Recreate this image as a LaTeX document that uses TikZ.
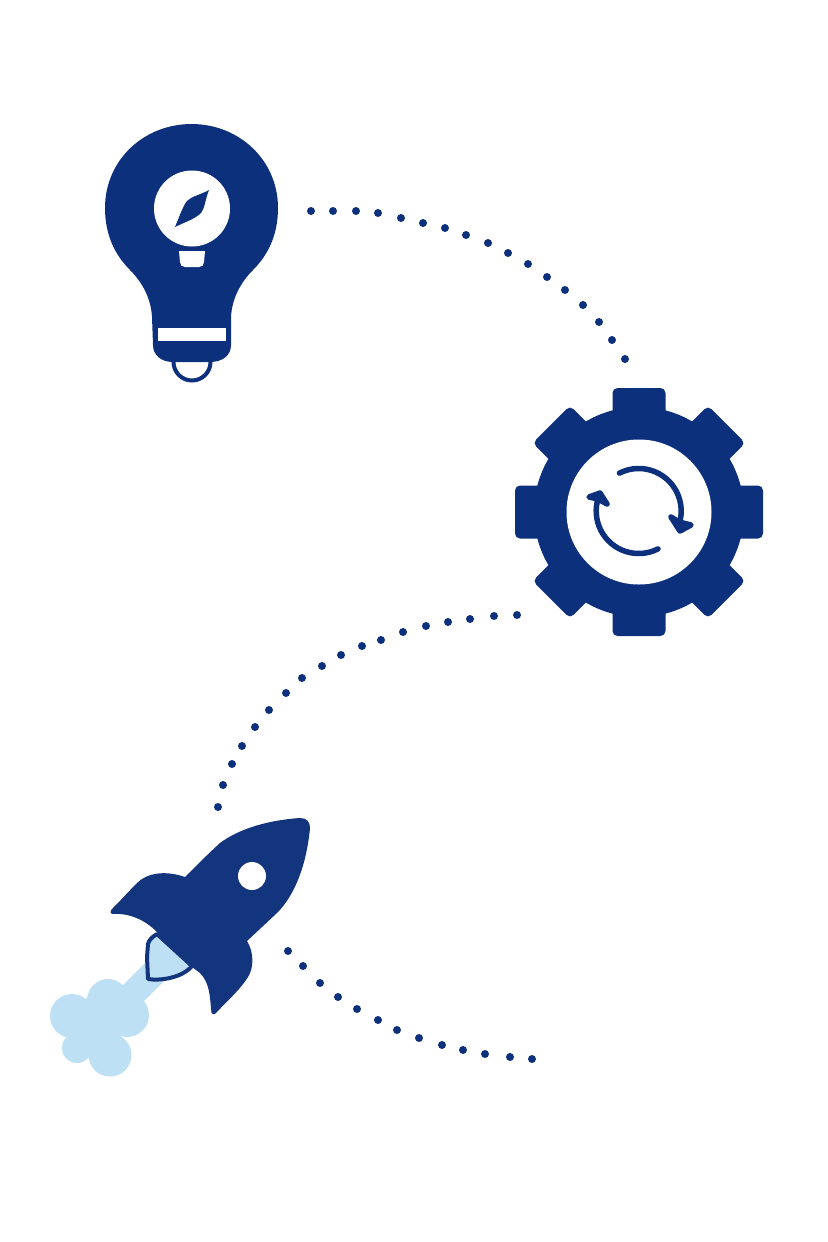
\documentclass[tikz,border=0pt]{standalone}
\definecolor{navy}{HTML}{0D307C}
\definecolor{rocketblue}{HTML}{13357E}
\definecolor{puff}{HTML}{BEE0F5}
\begin{document}
\begin{tikzpicture}[
        x=0.01cm, y=-0.01cm,
        dotnode/.style={draw=none, fill=navy, circle, inner sep=0pt, minimum size=0.08cm},
        icon/.style={fill=navy, draw=none},
        hole/.style={fill=white, draw=none},
        turn/.style={draw=navy, line width=0.055cm, line cap=round, line join=round},
    ]
    \useasboundingbox (0,0) rectangle (828,1242);

    % bulb
    \draw[navy, line width=0.04cm, fill=white] (192,362) circle[radius=18.5];
    \fill[icon] (173,362) .. controls (161,362) and (153,355) .. (153,345) -- (152,317)
        .. controls (151,298) and (142,282) .. (130,270) .. controls (115,255) and (105,235) .. (105,208)
        .. controls (105,160) and (144,124) .. (191.5,124) .. controls (239,124) and (278,160) .. (278,208)
        .. controls (278,235) and (268,255) .. (253,270) .. controls (241,282) and (232,298) .. (231,317)
        -- (231,345) .. controls (231,355) and (223,362) .. (210,362) -- cycle;
    \fill[hole] (192,208.5) circle[radius=38];
    \fill[icon] (209,190) .. controls (200,195) and (192,196) .. (187,201) .. controls (183,206) and (180,215) .. (175,227)
        .. controls (185,222) and (195,219) .. (201,213) .. controls (205,208) and (205,200) .. (209,190) -- cycle;
    \fill[hole] (179,251) -- (205,251) -- (204,262) .. controls (204,265) and (202,267) .. (199,267) -- (185,267) .. controls (182,267) and (180,265) .. (180,262) -- cycle;
    \fill[hole] (158,328) rectangle (226,341);

    % gear
    \fill[icon] (639,512) circle[radius=105];
    \foreach \a in {0,45,...,315}{
        \fill[icon, rounded corners=0.05cm, shift={(639,512)}, rotate=\a] (-26.5,-90) rectangle (26.5,-124);
    }
    \fill[hole] (639,512) circle[radius=72.5];
    \draw[turn] (638.7,511) ++(243:42.5) arc[start angle=243, end angle=383, radius=42.5];
    \draw[turn, fill=navy] (671,517) -- (680,531) -- (691,525) -- (679,522) -- cycle;
    \draw[turn] (638.7,511) ++(63:42.5) arc[start angle=63, end angle=198, radius=42.5];
    \draw[turn, fill=navy] (589,497) -- (600,493) -- (607,504) -- (598,499) -- cycle;

    % exhaust
    \fill[puff] (146,962) -- (118,990) -- (140,1005) -- (165,980) -- cycle;
    \fill[puff] (72,1016) circle[radius=22];
    \fill[puff] (108,1000) circle[radius=21];
    \fill[puff] (127,1015) circle[radius=22];
    \fill[puff] (110,1055) circle[radius=21.5];
    \fill[puff] (77,1048) circle[radius=15];
    \fill[puff] (97,1023) circle[radius=27];

    % rocket
    \draw[draw=rocketblue, line width=0.04cm, fill=puff, line join=round] (157,934) .. controls (152,937) and (149,940) .. (148,944)
        -- (147,957) -- (148,979) .. controls (160,981) and (182,978) .. (192,966) -- cycle;
    \fill[rocketblue] (185,877) .. controls (197,865) and (208,854) .. (220,843) .. controls (240,828) and (270,820) .. (300,818)
        .. controls (307,818) and (310,822) .. (310,828) .. controls (307,860) and (297,893) .. (277,913) -- (247,941)
        .. controls (254,952) and (254,968) .. (248,977) .. controls (240,990) and (225,1003) .. (217,1012)
        .. controls (214,1016) and (211,1015) .. (211,1009) .. controls (210,995) and (209,982) .. (200,973)
        -- (192,967) -- (157,932) .. controls (145,920) and (130,913) .. (113,914)
        .. controls (110,914) and (110,911) .. (112,909) .. controls (122,899) and (130,890) .. (137,883)
        .. controls (147,873) and (165,870) .. (185,877) -- cycle;
    \fill[hole] (252,876) circle[radius=14];

    % dots
    \foreach \x/\y [count=\i] in {311/211,333/211,356/211,378/213,401/218,423/223,445/228,466/235,488/243,508/253,528/264,547/277,565/290,583/305,599/322,612/340,625/359}{
        \node[dotnode] (top\i) at (\x,\y) {};
    }
    \foreach \x/\y [count=\i] in {517/615,494/616,470/619,448/622,426/626,403/632,381/640,362/646,341/655,322/666,302/678,286/693,269/710,255/727,242/746,232/764,223/785,218/807}{
        \node[dotnode] (mid\i) at (\x,\y) {};
    }
    \foreach \x/\y [count=\i] in {288/951,303/966,320/983,338/997,357/1009,378/1020,397/1030,419/1038,442/1045,463/1050,485/1054,510/1057,532/1059}{
        \node[dotnode] (low\i) at (\x,\y) {};
    }
\end{tikzpicture}
\end{document}
